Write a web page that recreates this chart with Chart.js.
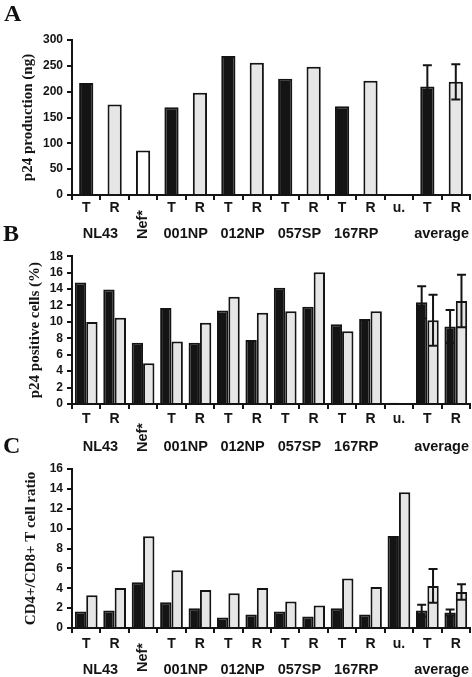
<!DOCTYPE html>
<html><head><meta charset="utf-8">
<script src="https://cdn.jsdelivr.net/npm/chart.js@4/dist/chart.umd.min.js"></script>
<style>
html,body{margin:0;padding:0;background:#fff;width:472px;height:677px;overflow:hidden;position:relative;}
canvas{position:absolute;left:0;}
.letter{position:absolute;font-family:"Liberation Serif","Times New Roman",serif;font-weight:bold;font-size:24px;line-height:1;color:#111;z-index:2;}
</style></head><body>
<div class="letter" style="left:4px;top:1px">A</div>
<div class="letter" style="left:3px;top:221px">B</div>
<div class="letter" style="left:3px;top:433px">C</div>
<canvas id="cA" width="472" height="245" style="top:0px"></canvas>
<canvas id="cB" width="472" height="210" style="top:245px"></canvas>
<canvas id="cC" width="472" height="222" style="top:455px"></canvas>
<script>
// ---- data ----
const categories = ['T','R','','T','R','T','R','T','R','T','R','u.','T','R'];
const groupNames = ['NL43','Nef*','001NP','012NP','057SP','167RP','average'];
const groupSpans = [[0,1],[2,2],[3,4],[5,6],[7,8],[9,10],[12,13]];

// Panel A: p24 production (ng)
const p24Production    = [217,175,86,170,198,269,256,225,248,172,221,0,210,219];
const p24ProductionErr = [0,0,0,0,0,0,0,0,0,0,0,0,41,34];
const p24Ticks = [0,50,100,150,200,250,300];

// Panel B: p24 positive cells (%)
const p24PosBlack    = [14.8,13.95,7.45,11.7,7.45,11.4,7.8,14.15,11.85,9.7,10.35,0.15,12.4,9.45];
const p24PosGray     = [10.0,10.5,4.95,7.6,9.9,13.05,11.1,11.3,16.05,8.85,11.3,0,10.2,12.55];
const p24PosBlackErr = [0,0,0,0,0,0,0,0,0,0,0,0,1.95,2.0];
const p24PosGrayErr  = [0,0,0,0,0,0,0,0,0,0,0,0,3.1,3.2];
const p24PosTicks = [0,2,4,6,8,10,12,14,16,18];

// Panel C: CD4+/CD8+ T cell ratio
const ratioBlack    = [1.65,1.75,4.6,2.6,2.0,1.05,1.35,1.65,1.15,2.0,1.35,9.25,1.75,1.55];
const ratioGray     = [3.3,4.03,9.24,5.82,3.83,3.5,4.03,2.66,2.26,4.98,4.13,13.65,4.23,3.63];
const ratioBlackErr = [0,0,0,0,0,0,0,0,0,0,0,0,0.6,0.3];
const ratioGrayErr  = [0,0,0,0,0,0,0,0,0,0,0,0,1.7,0.78];
const ratioTicks = [0,2,4,6,8,10,12,14,16];

// ---- styles ----
const INK = '#141414', GRAY = '#e6e6e6', WHITE = '#ffffff';
const SANS = '"Liberation Sans", Arial, sans-serif';
const SERIF = '"Liberation Serif", "Times New Roman", serif';

const overlay = {
  id: 'overlay',
  afterDatasetsDraw(chart, args, opts) {
    const ctx = chart.ctx, ys = chart.scales.y;
    (opts.errors || []).forEach(e => {
      const meta = chart.getDatasetMeta(e.dataset);
      const vals = chart.data.datasets[e.dataset].data;
      e.err.forEach((er, i) => {
        if (!er) return;
        const cx = meta.data[i].x, v = vals[i];
        const yt = ys.getPixelForValue(v + er), yb = ys.getPixelForValue(v - er);
        const hw = opts.capHalf || 4.5;
        ctx.save();
        ctx.strokeStyle = INK; ctx.lineWidth = 2;
        ctx.beginPath();
        ctx.moveTo(cx, yt); ctx.lineTo(cx, yb);
        ctx.moveTo(cx - hw, yt); ctx.lineTo(cx + hw, yt);
        ctx.moveTo(cx - hw, yb); ctx.lineTo(cx + hw, yb);
        ctx.stroke();
        ctx.restore();
      });
    });
  },
  afterDraw(chart, args, opts) {
    const ctx = chart.ctx, xs = chart.scales.x;
    ctx.save();
    ctx.fillStyle = INK;
    ctx.font = 'bold 14.5px ' + SANS;
    groupNames.forEach((name, g) => {
      const [a, b] = groupSpans[g];
      const cx = (xs.getPixelForValue(a) + xs.getPixelForValue(b)) / 2;
      if (a === b) {
        ctx.save();
        ctx.translate(cx, opts.nefBottom);
        ctx.rotate(-Math.PI / 2);
        ctx.textAlign = 'left'; ctx.textBaseline = 'middle';
        ctx.fillText(name, 0, 0);
        ctx.restore();
      } else {
        ctx.textAlign = 'center'; ctx.textBaseline = 'middle';
        ctx.fillText(name, cx, opts.groupY);
      }
    });
    ctx.restore();
  }
};

function makeChart(id, cfg) {
  const canvas = document.getElementById(id);
  const H = canvas.height;
  return new Chart(canvas, {
    type: 'bar',
    data: { labels: categories, datasets: cfg.datasets },
    plugins: [overlay],
    options: {
      responsive: false, animation: false, devicePixelRatio: 1, events: [],
      layout: { padding: { top: cfg.top, right: 2, left: 0, bottom: 0 } },
      datasets: { bar: { categoryPercentage: cfg.catPct, barPercentage: cfg.barPct, borderWidth: 2, borderColor: INK } },
      plugins: {
        legend: { display: false }, tooltip: { enabled: false },
        overlay: { errors: cfg.errors, groupY: cfg.groupY, nefBottom: cfg.nefBottom }
      },
      scales: {
        x: {
          afterFit(s) { s.height = H - cfg.bottom; },
          grid: { offset: true, drawOnChartArea: false, drawTicks: true, tickLength: 5, color: INK, lineWidth: 2 },
          border: { display: true, color: INK, width: 2 },
          ticks: { font: { family: SANS, weight: 'bold', size: 14, lineHeight: 1 }, color: INK, padding: cfg.xPad, maxRotation: 0, autoSkip: false }
        },
        y: {
          min: cfg.ticks[0], max: cfg.ticks[cfg.ticks.length - 1],
          afterFit(s) { s.width = 72; },
          afterBuildTicks(s) { s.ticks = cfg.ticks.map(v => ({ value: v })); },
          grid: { drawOnChartArea: false, drawTicks: true, tickLength: 5, color: INK, lineWidth: 2 },
          border: { display: true, color: INK, width: 2 },
          ticks: { font: { family: SANS, weight: 'bold', size: 12 }, color: INK, padding: 4, autoSkip: false },
          title: { display: true, text: cfg.title, color: INK, font: { family: SERIF, weight: 'bold', size: 15, lineHeight: 1 }, padding: { top: cfg.titlePad, bottom: 0 } }
        }
      }
    }
  });
}

const colorA = categories.map(c => c === 'T' ? INK : (c === 'R' ? GRAY : WHITE));

makeChart('cA', {
  top: 40, bottom: 195, xPad: 1, groupY: 234, nefBottom: 239, titlePad: 20.5,
  catPct: 1, barPct: 0.5, ticks: p24Ticks, title: 'p24 production (ng)',
  datasets: [{ data: p24Production, backgroundColor: colorA }],
  errors: [{ dataset: 0, err: p24ProductionErr }]
});

makeChart('cB', {
  top: 6.7, bottom: 159, xPad: 3, groupY: 202, nefBottom: 207, titlePad: 27.5,
  catPct: 0.8, barPct: 1, ticks: p24PosTicks, title: 'p24 positive cells (%)',
  datasets: [{ data: p24PosBlack, backgroundColor: INK }, { data: p24PosGray, backgroundColor: GRAY }],
  errors: [{ dataset: 0, err: p24PosBlackErr }, { dataset: 1, err: p24PosGrayErr }]
});

makeChart('cC', {
  top: 14, bottom: 173, xPad: 4, groupY: 215, nefBottom: 217, titlePad: 23.5,
  catPct: 0.8, barPct: 1, ticks: ratioTicks, title: 'CD4+/CD8+ T cell ratio',
  datasets: [{ data: ratioBlack, backgroundColor: INK }, { data: ratioGray, backgroundColor: GRAY }],
  errors: [{ dataset: 0, err: ratioBlackErr }, { dataset: 1, err: ratioGrayErr }]
});
</script>
</body></html>
